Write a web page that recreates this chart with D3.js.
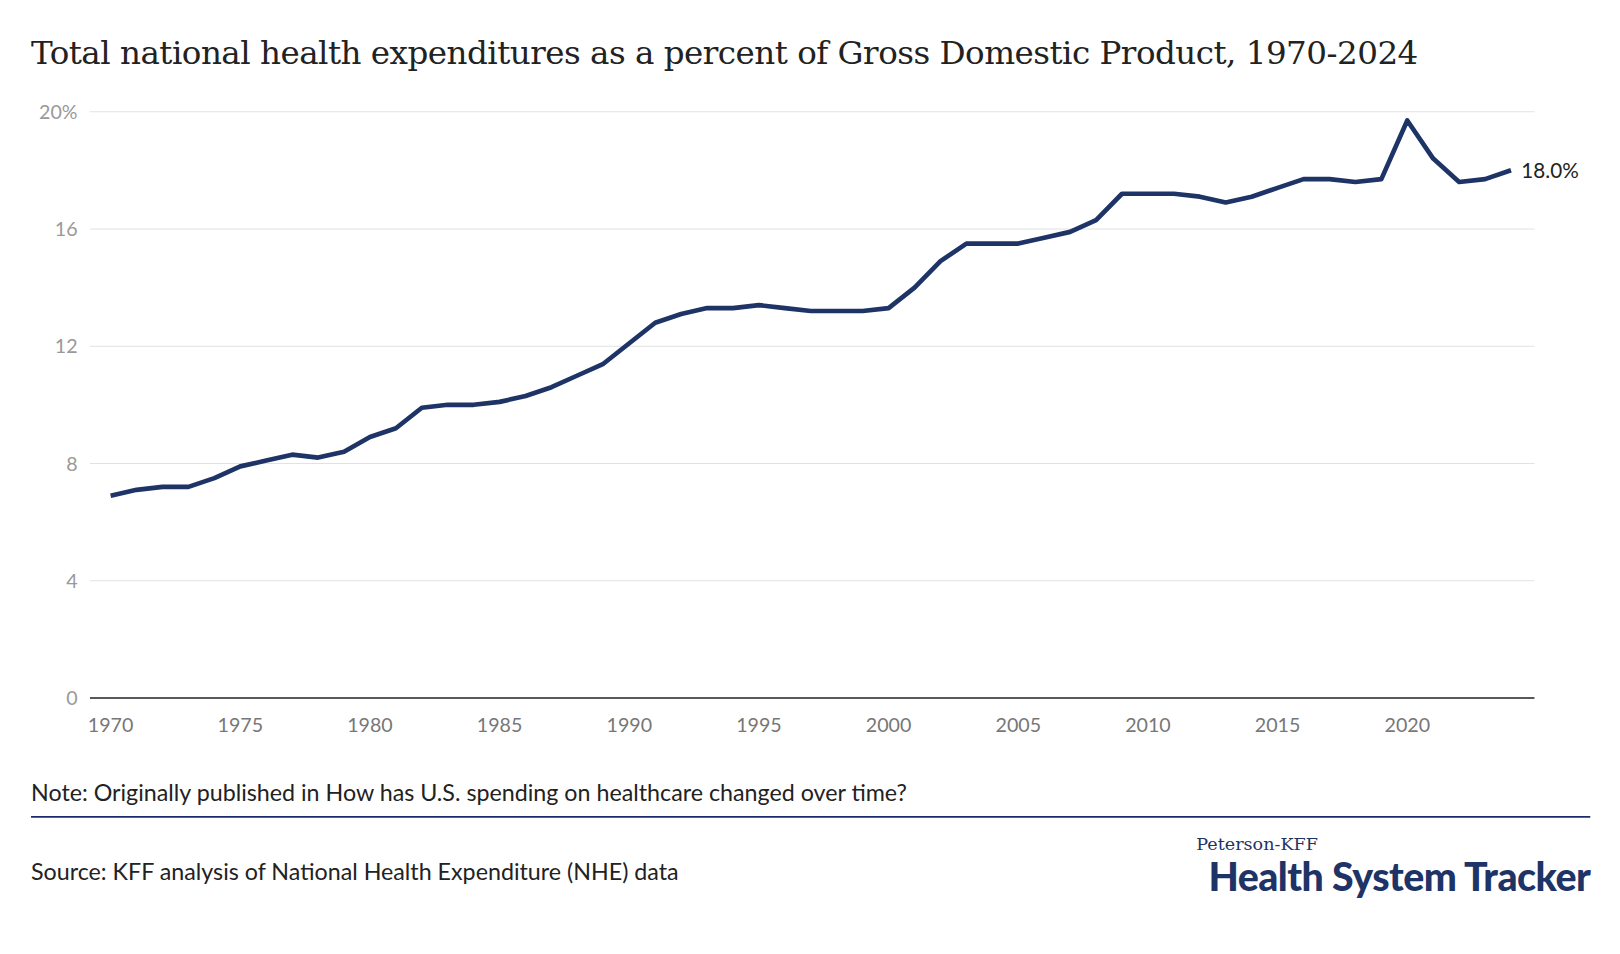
<!DOCTYPE html>
<html><head><meta charset="utf-8">
<script src="https://cdn.jsdelivr.net/npm/d3@7"></script>
<style>body{margin:0;background:#fff}</style></head>
<body><svg id="c" width="1620" height="954"></svg>
<script>
const years = d3.range(1970, 2025);
const values = [6.9,7.1,7.2,7.2,7.5,7.9,8.1,8.3,8.2,8.4,8.9,9.2,9.9,10.0,10.0,10.1,10.3,10.6,11.0,11.4,
12.1,12.8,13.1,13.3,13.3,13.4,13.3,13.2,13.2,13.2,13.3,14.0,14.9,15.5,15.5,15.5,15.7,15.9,16.3,17.2,
17.2,17.2,17.1,16.9,17.1,17.4,17.7,17.7,17.6,17.7,19.7,18.4,17.6,17.7,18.0];
const yTicks = [0,4,8,12,16,20];
const xTicks = [1970,1975,1980,1985,1990,1995,2000,2005,2010,2015,2020];

const svg = d3.select("#c").append("g").attr("transform","scale(1.034)");
const x = d3.scaleLinear().domain([1970,2020]).range([107,1361]);
const y = d3.scaleLinear().domain([0,20]).range([675,108]);
const F = "Lato, 'Open Sans', sans-serif";

svg.append("text").attr("x",30).attr("y",62).attr("font-family","'DejaVu Serif', serif")
 .attr("font-size",31.5).attr("fill","#222").attr("letter-spacing","-0.5")
 .text("Total national health expenditures as a percent of Gross Domestic Product, 1970-2024");

svg.selectAll(".g").data(yTicks.filter(d=>d>0)).join("line")
 .attr("x1",87).attr("x2",1484).attr("y1",d=>y(d)).attr("y2",d=>y(d)).attr("stroke","#e2e2e2");
svg.append("line").attr("x1",87).attr("x2",1484).attr("y1",y(0)).attr("y2",y(0)).attr("stroke","#222").attr("stroke-width",1.5);
svg.selectAll(".yt").data(yTicks).join("text").attr("x",75).attr("y",d=>y(d)+7)
 .attr("text-anchor","end").attr("font-family",F).attr("font-size",19).attr("fill","#999")
 .text(d=>d===20?"20%":d);
svg.selectAll(".xt").data(xTicks).join("text").attr("x",d=>x(d)).attr("y",708)
 .attr("text-anchor","middle").attr("font-family",F).attr("font-size",19).attr("fill","#777").text(d=>d);

const line = d3.line().x((d,i)=>x(years[i])).y(d=>y(d));
svg.append("path").attr("d",line(values)).attr("fill","none").attr("stroke","#1e3366")
 .attr("stroke-width",4.5).attr("stroke-linejoin","round");
svg.append("text").attr("x",x(2024)+10).attr("y",y(18)+7).attr("font-family",F).attr("font-size",20)
 .attr("fill","#222").text("18.0%");

svg.append("text").attr("x",30).attr("y",775).attr("font-family",F).attr("font-size",22.5).attr("fill","#222")
 .text("Note: Originally published in How has U.S. spending on healthcare changed over time?");
svg.append("line").attr("x1",30).attr("x2",1538).attr("y1",790).attr("y2",790).attr("stroke","#1e2a6e").attr("stroke-width",1.5);
svg.append("text").attr("x",30).attr("y",851).attr("font-family",F).attr("font-size",22.5).attr("fill","#222")
 .text("Source: KFF analysis of National Health Expenditure (NHE) data");
svg.append("text").attr("x",1157).attr("y",822).attr("font-family","'DejaVu Serif', serif").attr("font-size",17)
 .attr("fill","#1e3366").text("Peterson-KFF");
svg.append("text").attr("x",1538).attr("y",862).attr("text-anchor","end").attr("font-family",F).attr("font-weight",900)
 .attr("font-size",38).attr("fill","#1e3366").attr("letter-spacing","-0.5").text("Health System Tracker");
</script></body></html>
